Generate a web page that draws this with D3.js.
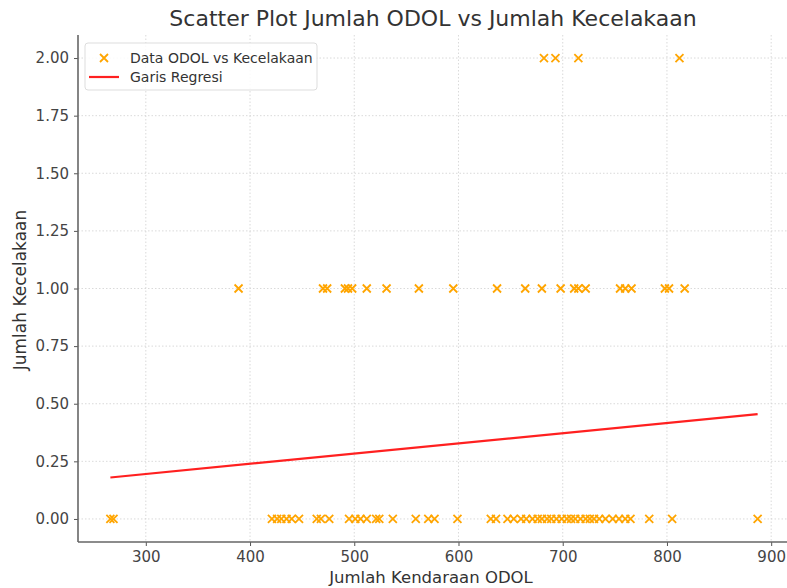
<!DOCTYPE html>
<html>
<head>
<meta charset="utf-8">
<script src="https://cdn.jsdelivr.net/npm/d3@7"></script>
<style>
  body { margin: 0; background: #fff; }
  text { font-family: "DejaVu Sans", sans-serif; }
</style>
</head>
<body>
<div id="chart"></div>
<script>
// Data
var odolZero = [266, 269, 421, 426, 430, 435, 440, 447, 464, 468, 476, 495, 501, 506, 512, 521, 524, 537,
  559, 571, 577, 599, 631, 636, 647, 653, 660, 665, 671, 676, 680, 685, 689, 694, 699, 704, 708, 712,
  717, 722, 726, 730, 735, 741, 748, 754, 760, 765, 783, 805, 887];
var odolOne = [389, 470, 474, 491, 494, 498, 512, 531, 562, 595, 637, 664, 680, 698, 711, 715, 722,
  755, 760, 766, 798, 802, 817];
var odolTwo = [682, 693, 715, 812];

var regX = [266, 887];
var regY = [0.18, 0.455];

var xTicks = [300, 400, 500, 600, 700, 800, 900];
var yTicks = [0, 0.25, 0.5, 0.75, 1, 1.25, 1.5, 1.75, 2];

var points = [];
odolZero.forEach(function (v) { points.push({ x: v, y: 0 }); });
odolOne.forEach(function (v) { points.push({ x: v, y: 1 }); });
odolTwo.forEach(function (v) { points.push({ x: v, y: 2 }); });

// SVG setup
var svgWidth = 787;
var svgHeight = 588;
var plot = { left: 78, right: 790, top: 35, bottom: 542 };

var svg = d3.select("#chart")
  .append("svg")
  .attr("width", svgWidth)
  .attr("height", svgHeight);

var xMin = d3.min(points, d => d.x), xMax = d3.max(points, d => d.x);
var xPad = (xMax - xMin) * 0.05;

var xScale = d3.scaleLinear()
  .domain([xMin - xPad, xMax + xPad])
  .range([plot.left, plot.right]);

var yScale = d3.scaleLinear()
  .domain([-0.1, 2.1])
  .range([plot.bottom, plot.top]);

// grid
var grid = svg.append("g");
grid.selectAll(".gx")
  .data(xTicks)
  .enter().append("line")
  .attr("x1", d => xScale(d)).attr("x2", d => xScale(d))
  .attr("y1", plot.top).attr("y2", plot.bottom)
  .attr("stroke", "#d0d0d0").attr("stroke-width", 0.8)
  .attr("stroke-dasharray", "1.5,2");
grid.selectAll(".gy")
  .data(yTicks)
  .enter().append("line")
  .attr("x1", plot.left).attr("x2", plot.right)
  .attr("y1", d => yScale(d)).attr("y2", d => yScale(d))
  .attr("stroke", "#d0d0d0").attr("stroke-width", 0.8)
  .attr("stroke-dasharray", "1.5,2");

// axes
var bottomAxis = d3.axisBottom(xScale).tickValues(xTicks).tickSize(4).tickPadding(5);
var leftAxis = d3.axisLeft(yScale).tickValues(yTicks).tickSize(4).tickPadding(5)
  .tickFormat(d3.format(".2f"));

var gx = svg.append("g")
  .attr("transform", `translate(0, ${plot.bottom})`)
  .call(bottomAxis);
var gy = svg.append("g")
  .attr("transform", `translate(${plot.left}, 0)`)
  .call(leftAxis);

[gx, gy].forEach(function (g) {
  g.select(".domain").remove();
  g.selectAll(".tick line").attr("stroke", "#555").attr("stroke-width", 1);
  g.selectAll(".tick text")
    .attr("fill", "#444")
    .style("font-size", "15px")
    .style("font-family", "DejaVu Sans");
});

// spines left and bottom
svg.append("line")
  .attr("x1", plot.left).attr("x2", plot.left)
  .attr("y1", plot.top).attr("y2", plot.bottom)
  .attr("stroke", "#666").attr("stroke-width", 1.6);
svg.append("line")
  .attr("x1", plot.left).attr("x2", plot.right)
  .attr("y1", plot.bottom).attr("y2", plot.bottom)
  .attr("stroke", "#666").attr("stroke-width", 1.6);

// scatter x markers
var s = 4;
var marks = svg.append("g");
marks.selectAll("path")
  .data(points)
  .enter().append("path")
  .attr("d", function (d) {
    var cx = xScale(d.x), cy = yScale(d.y);
    return `M${cx - s},${cy - s}L${cx + s},${cy + s}M${cx - s},${cy + s}L${cx + s},${cy - s}`;
  })
  .attr("stroke", "#ffa500")
  .attr("stroke-width", 1.8)
  .attr("fill", "none");

// regression line
var line = d3.line().x(d => xScale(d[0])).y(d => yScale(d[1]));
svg.append("path")
  .datum(d3.zip(regX, regY))
  .attr("d", line)
  .attr("stroke", "#ff2020")
  .attr("stroke-width", 2.2)
  .attr("fill", "none");

// title and labels
svg.append("text")
  .attr("x", 433).attr("y", 26)
  .attr("text-anchor", "middle")
  .attr("fill", "#333")
  .style("font-size", "22px")
  .text("Scatter Plot Jumlah ODOL vs Jumlah Kecelakaan");

svg.append("text")
  .attr("x", 431).attr("y", 583)
  .attr("text-anchor", "middle")
  .attr("fill", "#333")
  .style("font-size", "16.5px")
  .text("Jumlah Kendaraan ODOL");

svg.append("text")
  .attr("transform", "rotate(-90)")
  .attr("x", -290).attr("y", 26)
  .attr("text-anchor", "middle")
  .attr("fill", "#333")
  .style("font-size", "17px")
  .text("Jumlah Kecelakaan");

// legend
var legend = svg.append("g").attr("transform", "translate(85, 43)");
legend.append("rect")
  .attr("width", 232).attr("height", 47)
  .attr("rx", 3)
  .attr("fill", "#fff").attr("fill-opacity", 0.85)
  .attr("stroke", "#ddd");
legend.append("path")
  .attr("d", `M${19 - s},${15 - s}L${19 + s},${15 + s}M${19 - s},${15 + s}L${19 + s},${15 - s}`)
  .attr("stroke", "#ffa500").attr("stroke-width", 1.8);
legend.append("text")
  .attr("x", 45).attr("y", 19.5)
  .attr("fill", "#333")
  .style("font-size", "14px")
  .text("Data ODOL vs Kecelakaan");
legend.append("line")
  .attr("x1", 4).attr("x2", 34).attr("y1", 34).attr("y2", 34)
  .attr("stroke", "#ff2020").attr("stroke-width", 2.2);
legend.append("text")
  .attr("x", 45).attr("y", 39)
  .attr("fill", "#333")
  .style("font-size", "14px")
  .text("Garis Regresi");
</script>
</body>
</html>
